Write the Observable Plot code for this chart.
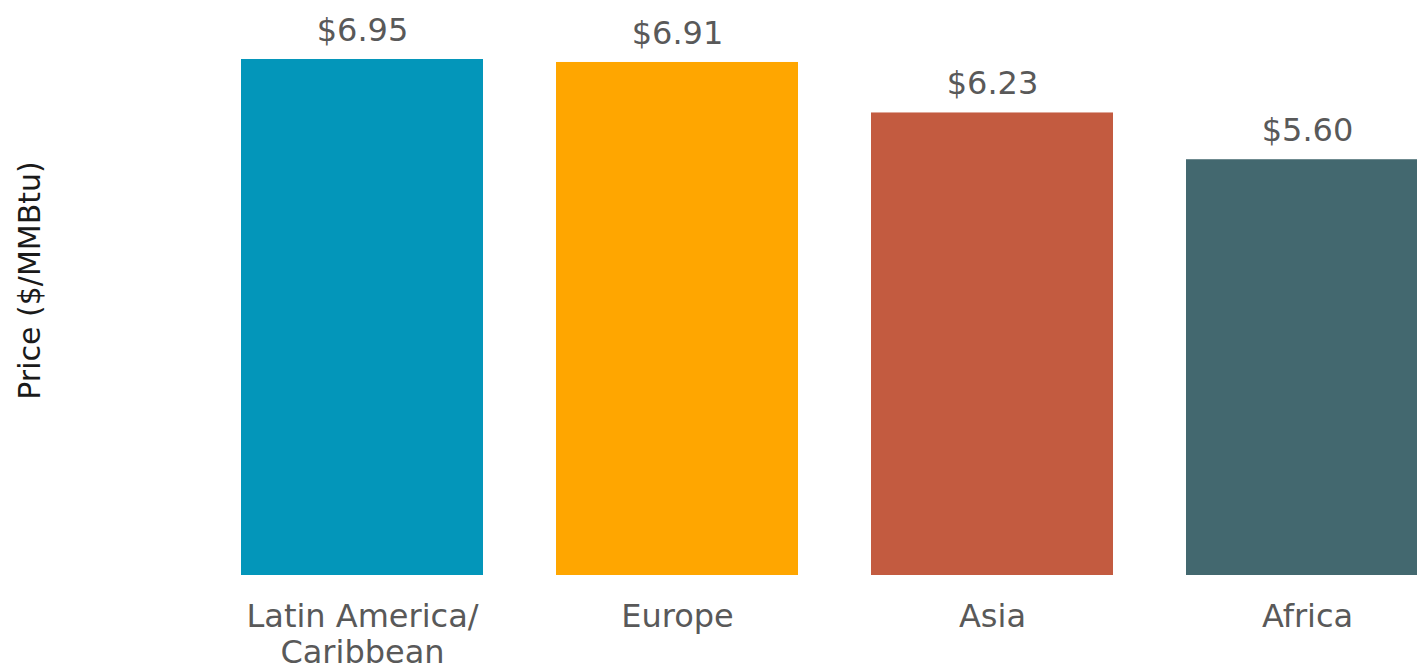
<!DOCTYPE html>
<html>
<head>
<meta charset="utf-8">
<script src="https://cdn.jsdelivr.net/npm/d3@7"></script>
<script src="https://cdn.jsdelivr.net/npm/@observablehq/plot@0.6"></script>
<style>
  html, body { margin: 0; padding: 0; background: #ffffff; overflow: hidden; }
  #chart svg { display: block; }
</style>
</head>
<body>
<div id="chart"></div>
<script>
const regions = ["Latin America/\nCaribbean", "Europe", "Asia", "Africa"];
const prices = [6.95, 6.91, 6.23, 5.60];
const colors = ["#0396BA", "#FFA600", "#C35B40", "#43686F"];
const yLabel = "Price ($/MMBtu)";

const data = regions.map((r, i) => ({region: r, price: prices[i], color: colors[i]}));

const chart = Plot.plot({
  width: 1417,
  height: 668,
  marginTop: 0,
  marginBottom: 108,
  marginLeft: 0,
  marginRight: 0,
  style: {fontFamily: "DejaVu Sans, Verdana, sans-serif", background: "#ffffff"},
  x: {domain: regions, range: [167, 1501], padding: 0.232, label: null},
  y: {domain: [0, 7], range: [575, 55.3], axis: null},
  marks: [
    Plot.barY(data, {x: "region", y: "price", fill: "color"}),
    Plot.text(data, {
      x: "region", y: "price",
      text: d => "$" + d.price.toFixed(2),
      dy: -29, fontSize: 32, fill: "#595959"
    }),
    Plot.axisX({
      tickSize: 0, tickPadding: 41, fontSize: 32, lineHeight: 1.125,
      fill: "#595959", label: null
    }),
    Plot.text([yLabel], {
      frameAnchor: "left", textAnchor: "middle", rotate: -90, dx: 30,
      fontSize: 30, fill: "#1a1a1a", text: d => d
    })
  ]
});
document.getElementById("chart").appendChild(chart);
</script>
</body>
</html>
